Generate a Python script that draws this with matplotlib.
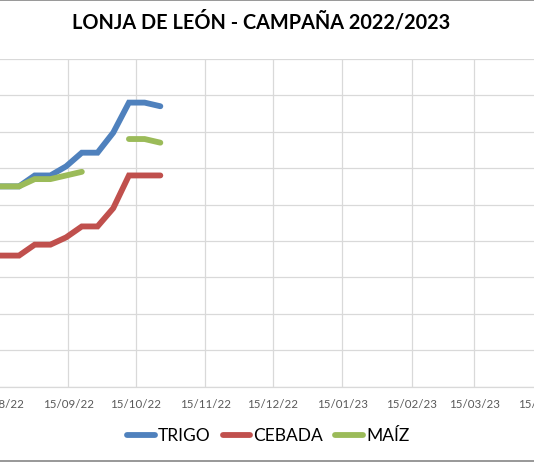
import datetime as dt
import matplotlib
matplotlib.use("Agg")
import matplotlib.pyplot as plt
from matplotlib.lines import Line2D

plt.rcParams['font.family'] = ['Lato', 'DejaVu Sans']

# weekly quotes (Wednesdays), EUR/t
fechas = ["10/08/22", "17/08/22", "24/08/22", "31/08/22", "07/09/22", "14/09/22",
          "21/09/22", "28/09/22", "05/10/22", "12/10/22", "19/10/22", "26/10/22"]
trigo = [290, 290, 290, 296, 296, 301, 308.5, 308.5, 319.5, 336, 336, 334]
cebada = [252, 252, 252, 258, 258, 262, 268, 268, 278, 296, 296, 296]
maiz = [290, 290, 290, 294, 294, 296, 298, None, None, 316, 316, 314]

tick_labels = ["15/08/22", "15/09/22", "15/10/22", "15/11/22", "15/12/22",
               "15/01/23", "15/02/23", "15/03/23", "15/04/23"]

x = [dt.datetime.strptime(f, "%d/%m/%y") for f in fechas]
ticks = [dt.datetime.strptime(t, "%d/%m/%y") for t in tick_labels]

def nan(v):
    return [float('nan') if a is None else a for a in v]

fig = plt.figure(figsize=(5.34, 4.62), dpi=100)
# plot area is wider than the visible crop (y labels cut on the left)
ax = fig.add_axes([-0.061, 0.163, 1.0796, 0.7095])

series = [("TRIGO", trigo, "#4F81BD"),
          ("CEBADA", cebada, "#C0504D"),
          ("MAÍZ", maiz, "#9BBB59")]
for name, vals, col in series:
    ax.plot(x, nan(vals), color=col, lw=4.2, solid_capstyle='round',
            solid_joinstyle='miter', label=name, zorder=3)

ax.set_xlim(dt.datetime(2022, 8, 1), dt.datetime(2023, 4, 15))
ax.set_ylim(180, 360)
ax.set_yticks(range(180, 361, 20))
ax.set_xticks(ticks)
ax.set_xticklabels(tick_labels)
ax.tick_params(axis='x', length=0, pad=9, labelsize=8.3, labelcolor="#595959")
ax.tick_params(axis='y', length=0, labelleft=False)
ax.grid(True, color="#d9d9d9", lw=0.9, zorder=0)
for s in ["left", "right", "top"]:
    ax.spines[s].set_visible(False)
ax.spines["bottom"].set_color("#d9d9d9")
ax.spines["bottom"].set_linewidth(0.9)

fig.text(0.489, 0.951, "LONJA DE LEÓN - CAMPAÑA 2022/2023", ha='center', va='center',
         fontsize=14.3, fontweight='bold', color="#000000")

handles = [Line2D([], [], color=c, lw=4.2, solid_capstyle='round') for _, _, c in series]
fig.legend(handles, [n for n, _, _ in series], loc='center', bbox_to_anchor=(0.502, 0.056),
           ncol=3, frameon=False, fontsize=12.5, handlelength=1.6, handletextpad=0.17,
           columnspacing=0.7, labelcolor="#000000")

# chart border lines visible at top and bottom of the crop
fig.add_artist(Line2D([0, 1], [0.999, 0.999], color="#868686", lw=1.2, transform=fig.transFigure))
fig.add_artist(Line2D([0, 1], [0.003, 0.003], color="#868686", lw=1.2, transform=fig.transFigure))

fig.savefig("out.png", dpi=100)
